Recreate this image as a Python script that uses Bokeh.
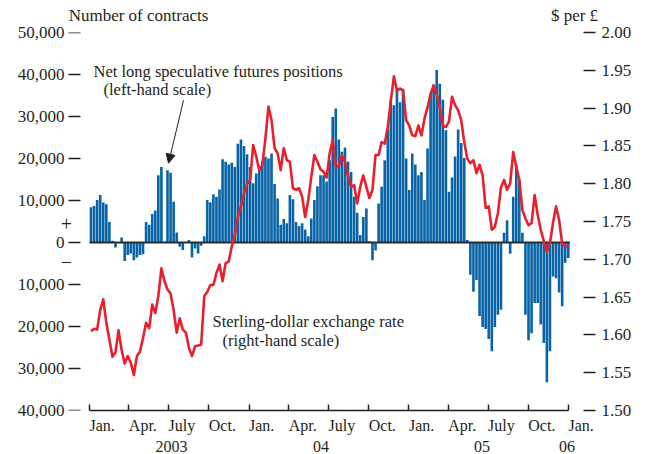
import pandas as pd
from bokeh.plotting import figure
from bokeh.core.properties import value
from bokeh.models import (Range1d, LinearAxis, FixedTicker, ColumnDataSource,
                          Arrow, NormalHead, PrintfTickFormatter)
from bokeh.embed import file_html
from bokeh.resources import INLINE

# ---------------- data ----------------
first_week = "2003-01-01"
# Net long speculative futures positions, thousands of contracts (weekly)
positions_k = [
    8.4, 8.7, 10.1, 11.3, 9.5, 9.1, 4.9, 0.4, -1.2, 0.0, 1.2, -4.4, -3.0, -2.6, -4.2, -3.6,
    -3.0, -2.8, 4.9, 4.2, 6.8, 7.6, 16.0, 18.0, 0.0, 17.2, 16.6, 9.7,
    2.4, -1.0, -1.8, 0.0, 0.6, -3.6, -1.4, -2.6, -0.8, 1.5,
    10.1, 9.6, 11.5, 10.9, 12.6, 19.8, 19.2, 18.6, 19.0, 18.0, 23.5, 24.5, 23.0,
    21.0, 18.0, 14.1, 16.4, 17.6, 19.4, 20.4, 20.0, 21.2, 13.9, 10.5, 4.2, 5.6, 4.6, 11.3,
    10.3, 4.9, 3.9, 4.6, 3.1, 1.5, 5.7, 10.1, 13.4, 16.0, 16.0, 14.5,
    19.6, 29.9, 31.9, 24.5, 21.6, 22.6, 19.2, 16.8, 10.9, 7.1, 1.8, 6.1, 8.1, 0.3, -4.2,
    -1.9, 9.3, 13.3, 19.6, 27.0, 33.8, 32.7, 36.2, 33.4, 36.6,
    20.0, 12.5, 21.2, 18.6, 16.0, 16.8, 10.1, 22.4, 35.4, 37.6, 41.1, 37.8, 34.0, 26.7,
    12.1, 15.5, 20.5, 26.9, 23.7, 20.1,
    0.6, -7.7, -11.7, -8.9, -17.5, -20.1, -20.6, -23.0, -25.9, -20.1, -17.2, -16.0, 2.3,
    5.3, -2.7, 10.9, 18.6, 15.0, 2.3, -17.2, -23.3, -21.6, -14.4, -14.4, -19.5, -23.9,
    -33.3, -25.9, -8.1, -8.5, -11.9, -15.2, -4.8, -3.7,
]
# Sterling-dollar exchange rate, $ per pound (weekly)
rate = [
    1.605, 1.608, 1.607, 1.633, 1.647, 1.616, 1.594, 1.571, 1.577, 1.606, 1.580, 1.562,
    1.572, 1.563, 1.547, 1.572, 1.578, 1.596, 1.616, 1.609, 1.640, 1.629, 1.651, 1.688,
    1.671, 1.660, 1.655, 1.633, 1.603, 1.622, 1.607, 1.603, 1.583, 1.572, 1.585, 1.586,
    1.587, 1.651, 1.657, 1.666, 1.666, 1.682, 1.693, 1.671, 1.695, 1.697, 1.717, 1.732,
    1.756, 1.770, 1.787, 1.800, 1.805, 1.851, 1.836, 1.818, 1.825, 1.860, 1.902, 1.884,
    1.847, 1.840, 1.818, 1.847, 1.831, 1.829, 1.794, 1.792, 1.794, 1.783, 1.756, 1.778,
    1.809, 1.838, 1.829, 1.819, 1.816, 1.808, 1.840, 1.858, 1.823, 1.823, 1.838, 1.829,
    1.810, 1.796, 1.798, 1.774, 1.796, 1.811, 1.796, 1.781, 1.792, 1.838, 1.838, 1.855,
    1.853, 1.875, 1.910, 1.942, 1.923, 1.926, 1.923, 1.884, 1.877, 1.864, 1.863, 1.877,
    1.864, 1.886, 1.901, 1.919, 1.930, 1.919, 1.901, 1.877, 1.875, 1.882, 1.915, 1.904,
    1.897, 1.884, 1.855, 1.833, 1.827, 1.831, 1.814, 1.825, 1.811, 1.768, 1.770, 1.739,
    1.743, 1.761, 1.795, 1.805, 1.792, 1.800, 1.842, 1.822, 1.805, 1.765, 1.754, 1.745,
    1.748, 1.785, 1.759, 1.739, 1.724, 1.710, 1.721, 1.748, 1.770, 1.752, 1.721, 1.717,
    1.717,
]
left_ticks = [-40000, -30000, -20000, -10000, 0, 10000, 20000, 30000, 40000, 50000]
right_ticks = [1.50, 1.55, 1.60, 1.65, 1.70, 1.75, 1.80, 1.85, 1.90, 1.95, 2.00]
quarter_labels = ["Jan.", "Apr.", "July", "Oct."] * 3 + ["Jan."]
year_labels = ["2003", "04", "05", "06"]

# ---------------- layout helpers (pixel <-> data) ----------------
W, H = 648, 454
FRAME_L, FRAME_R, FRAME_T, FRAME_B = 61, 583, 32, 411
PX0, PX_END = 89, 568          # pixel of 1 Jan 2003 / 1 Jan 2006
origin = pd.Timestamp(first_week)
DAYS = (pd.Timestamp("2006-01-01") - origin).days
k = (PX_END - PX0) / DAYS      # px per day
def day_at(px):
    return (px - PX0) / k
Y0, Y1 = -40000, 50000
ky = (FRAME_B - FRAME_T) / (Y1 - Y0)
def val_at(py):
    return Y1 - (py - FRAME_T) / ky

week_starts = pd.date_range(first_week, periods=max(len(positions_k), len(rate)), freq="7D")
day_center = [(d - origin).days + 3.5 for d in week_starts]
bars = ColumnDataSource(dict(x=day_center[:len(positions_k)],
                             top=[v * 1000 for v in positions_k]))
line = ColumnDataSource(dict(x=day_center[:len(rate)], y=rate))

quarters = pd.date_range("2003-01-01", "2006-01-01", freq="QS")
quarter_days = [float((q - origin).days) for q in quarters]

FONT = "Liberation Serif"
INK = "#231f20"
BLUE = "#0864a6"
RED = "#e8202e"

p = figure(width=W, height=H, output_backend="svg", toolbar_location=None,
           x_range=Range1d(day_at(FRAME_L), day_at(FRAME_R)), y_range=Range1d(Y0, Y1),
           min_border_left=FRAME_L, min_border_right=W - FRAME_R,
           min_border_top=FRAME_T, min_border_bottom=H - FRAME_B)
p.outline_line_color = None
p.grid.visible = False
p.background_fill_color = "white"
p.border_fill_color = "white"

p.vbar(x="x", top="top", bottom=0, width=6.0, source=bars, fill_color=BLUE, line_color=None)
p.line(x=[day_center[0] - 3.5, day_center[len(positions_k) - 1] + 3.5], y=[0, 0],
       line_color="#2b2b2b", line_width=2)

p.extra_y_ranges = {"rate": Range1d(1.5, 2.0)}
p.line(x="x", y="y", source=line, y_range_name="rate", line_color=RED,
       line_width=2.6, line_join="round")

# left axis: labels from the axis, dashes drawn just left of the bars
yl = p.yaxis[0]
yl.ticker = FixedTicker(ticks=left_ticks)
yl.major_label_overrides = {t: f"{abs(t):,}" for t in left_ticks}
yl.axis_line_color = None
yl.major_tick_in = 0
yl.major_tick_out = 0
yl.minor_tick_line_color = None
yl.major_label_standoff = -3
yl.major_label_text_font = FONT
yl.major_label_text_font_size = "17px"
yl.major_label_text_color = INK
p.segment(x0=[day_at(68)] * len(left_ticks), x1=[day_at(80)] * len(left_ticks),
          y0=left_ticks, y1=left_ticks, line_color=INK, line_width=1.5)

# right axis
yr = LinearAxis(y_range_name="rate", ticker=FixedTicker(ticks=right_ticks),
                formatter=PrintfTickFormatter(format="%.2f"))
yr.axis_line_color = None
yr.major_tick_in = 0
yr.major_tick_out = 12
yr.major_tick_line_width = 1.5
yr.major_tick_line_color = INK
yr.minor_tick_line_color = None
yr.major_label_standoff = 6
yr.major_label_text_font = FONT
yr.major_label_text_font_size = "17px"
yr.major_label_text_color = INK
p.add_layout(yr, "right")

# x axis: line, inward quarter ticks, month labels starting at their tick
xa = p.xaxis[0]
xa.ticker = FixedTicker(ticks=quarter_days)
xa.major_label_overrides = {d: t for d, t in zip(quarter_days, quarter_labels)}
xa.bounds = (quarter_days[0], quarter_days[-1])
xa.major_tick_in = 6
xa.major_tick_out = 0
xa.major_tick_line_width = 1.5
xa.major_tick_line_color = INK
xa.minor_tick_line_color = None
xa.axis_line_width = 1.5
xa.axis_line_color = INK
xa.major_label_orientation = -0.0001   # tiny negative angle -> labels left-aligned at tick
xa.major_label_standoff = 15
xa.major_label_text_font = FONT
xa.major_label_text_font_size = "16px"
xa.major_label_text_color = INK

# year row
year_pos = [day_at(171), day_at(320.5), day_at(481.5), day_at(566.5)]
xy = LinearAxis(ticker=FixedTicker(ticks=year_pos),
                major_label_overrides={d: t for d, t in zip(year_pos, year_labels)})
xy.axis_line_color = None
xy.major_tick_line_color = None
xy.minor_tick_line_color = None
xy.major_label_standoff = -11
xy.major_label_text_font = FONT
xy.major_label_text_font_size = "16px"
xy.major_label_text_color = INK
p.add_layout(xy, "below")

# headers row above the frame
head_pos = [day_at(138), day_at(574)]
xh = LinearAxis(ticker=FixedTicker(ticks=head_pos),
                major_label_overrides={head_pos[0]: "Number of contracts",
                                       head_pos[1]: "$ per £"})
xh.axis_line_color = None
xh.major_tick_line_color = None
xh.minor_tick_line_color = None
xh.major_label_standoff = 2
xh.major_label_text_font = FONT
xh.major_label_text_font_size = "17px"
xh.major_label_text_color = INK
p.add_layout(xh, "above")

# texts inside the plotting area
notes = ColumnDataSource(dict(
    x=[day_at(93), day_at(103), day_at(212), day_at(222)],
    y=[val_at(71), val_at(89), val_at(322), val_at(341)],
    t=["Net long speculative futures positions", "(left-hand scale)",
       "Sterling-dollar exchange rate", "(right-hand scale)"]))
p.text(x="x", y="y", text="t", source=notes, text_align="left", text_baseline="middle",
       text_font=value(FONT), text_font_size="16.5px", text_color=INK)
signs = ColumnDataSource(dict(x=[day_at(66), day_at(66)], y=[4500, -4600], t=["+", "\u2212"]))
p.text(x="x", y="y", text="t", source=signs, text_align="center", text_baseline="middle",
       text_font=value(FONT), text_font_size="20px", text_color=INK)

p.add_layout(Arrow(end=NormalHead(size=9, fill_color=INK, line_color=INK, line_width=1),
                   x_start=day_at(183), y_start=val_at(100),
                   x_end=day_at(168), y_end=val_at(163),
                   line_color=INK, line_width=1))

html = file_html(p, INLINE)
html = html.replace("</head>", "<style>html,body{overflow:hidden;}</style></head>", 1)
open("out.html", "w").write(html)
